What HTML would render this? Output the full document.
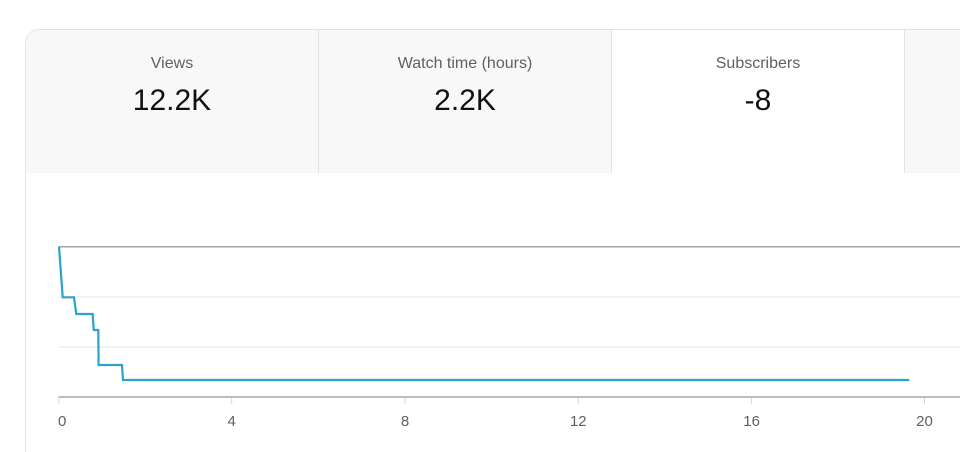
<!DOCTYPE html>
<html><head><meta charset="utf-8"><style>
html,body{margin:0;padding:0;background:#fff;width:960px;height:452px;overflow:hidden;font-family:"Liberation Sans",Arial,sans-serif;}
.wrap{position:relative;width:960px;height:452px;overflow:hidden;}
.card{position:absolute;left:25px;top:29px;width:960px;height:440px;border:1px solid #e3e3e3;border-top-left-radius:14px;box-sizing:border-box;overflow:hidden;background:#fff;}
.tab{position:absolute;top:0;height:143px;background:#f8f8f8;box-sizing:border-box;}
.t{position:absolute;left:0;right:0;text-align:center;color:#606060;font-size:16px;top:26px;line-height:16px;}
.v{position:absolute;left:0;right:0;text-align:center;color:#111;font-size:30px;top:56px;line-height:30px;}
</style></head><body>
<div class="wrap">
<div class="card">
  <div class="tab" style="left:0;width:293px;border-right:1px solid #e3e3e3;"><div class="t">Views</div><div class="v">12.2K</div></div>
  <div class="tab" style="left:293px;width:293px;border-right:1px solid #e3e3e3;"><div class="t">Watch time (hours)</div><div class="v">2.2K</div></div>
  <div class="tab" style="left:586px;width:293px;background:#fff;border-right:1px solid #e3e3e3;"><div class="t">Subscribers</div><div class="v">-8</div></div>
  <div class="tab" style="left:879px;width:200px;"></div>
</div>
<svg width="960" height="452" style="position:absolute;left:0;top:0" xmlns="http://www.w3.org/2000/svg">
  <line x1="58.5" y1="297" x2="960" y2="297" stroke="#e6e6e6" stroke-width="1"/>
  <line x1="58.5" y1="347" x2="960" y2="347" stroke="#e6e6e6" stroke-width="1"/>
  <line x1="58.5" y1="246.8" x2="960" y2="246.8" stroke="#a6a6a6" stroke-width="1.5"/>
  <line x1="58.5" y1="397" x2="960" y2="397" stroke="#a6a6a6" stroke-width="1.5"/>
  <g stroke="#d6d6d6" stroke-width="1">
    <line x1="58.8" y1="398" x2="58.8" y2="404"/>
    <line x1="231.7" y1="398" x2="231.7" y2="404"/>
    <line x1="405" y1="398" x2="405" y2="404"/>
    <line x1="578.3" y1="398" x2="578.3" y2="404"/>
    <line x1="751.6" y1="398" x2="751.6" y2="404"/>
    <line x1="924.5" y1="398" x2="924.5" y2="404"/>
  </g>
  <g font-family="Liberation Sans, Arial, sans-serif" font-size="15" fill="#606060">
    <text x="58" y="426">0</text>
    <text x="231.7" y="426" text-anchor="middle">4</text>
    <text x="405" y="426" text-anchor="middle">8</text>
    <text x="578.3" y="426" text-anchor="middle">12</text>
    <text x="751.6" y="426" text-anchor="middle">16</text>
    <text x="924.5" y="426" text-anchor="middle">20</text>
  </g>
  <polyline fill="none" stroke="#2aa3cd" stroke-width="2.2" stroke-linejoin="miter"
    points="59,246.8 60.2,263 62.7,297.3 74,297.3 76.3,314 92.7,314 93.7,330 98.3,330 98.6,365 122,365 123,380 909.3,380"/>
</svg>
</div>
</body></html>
